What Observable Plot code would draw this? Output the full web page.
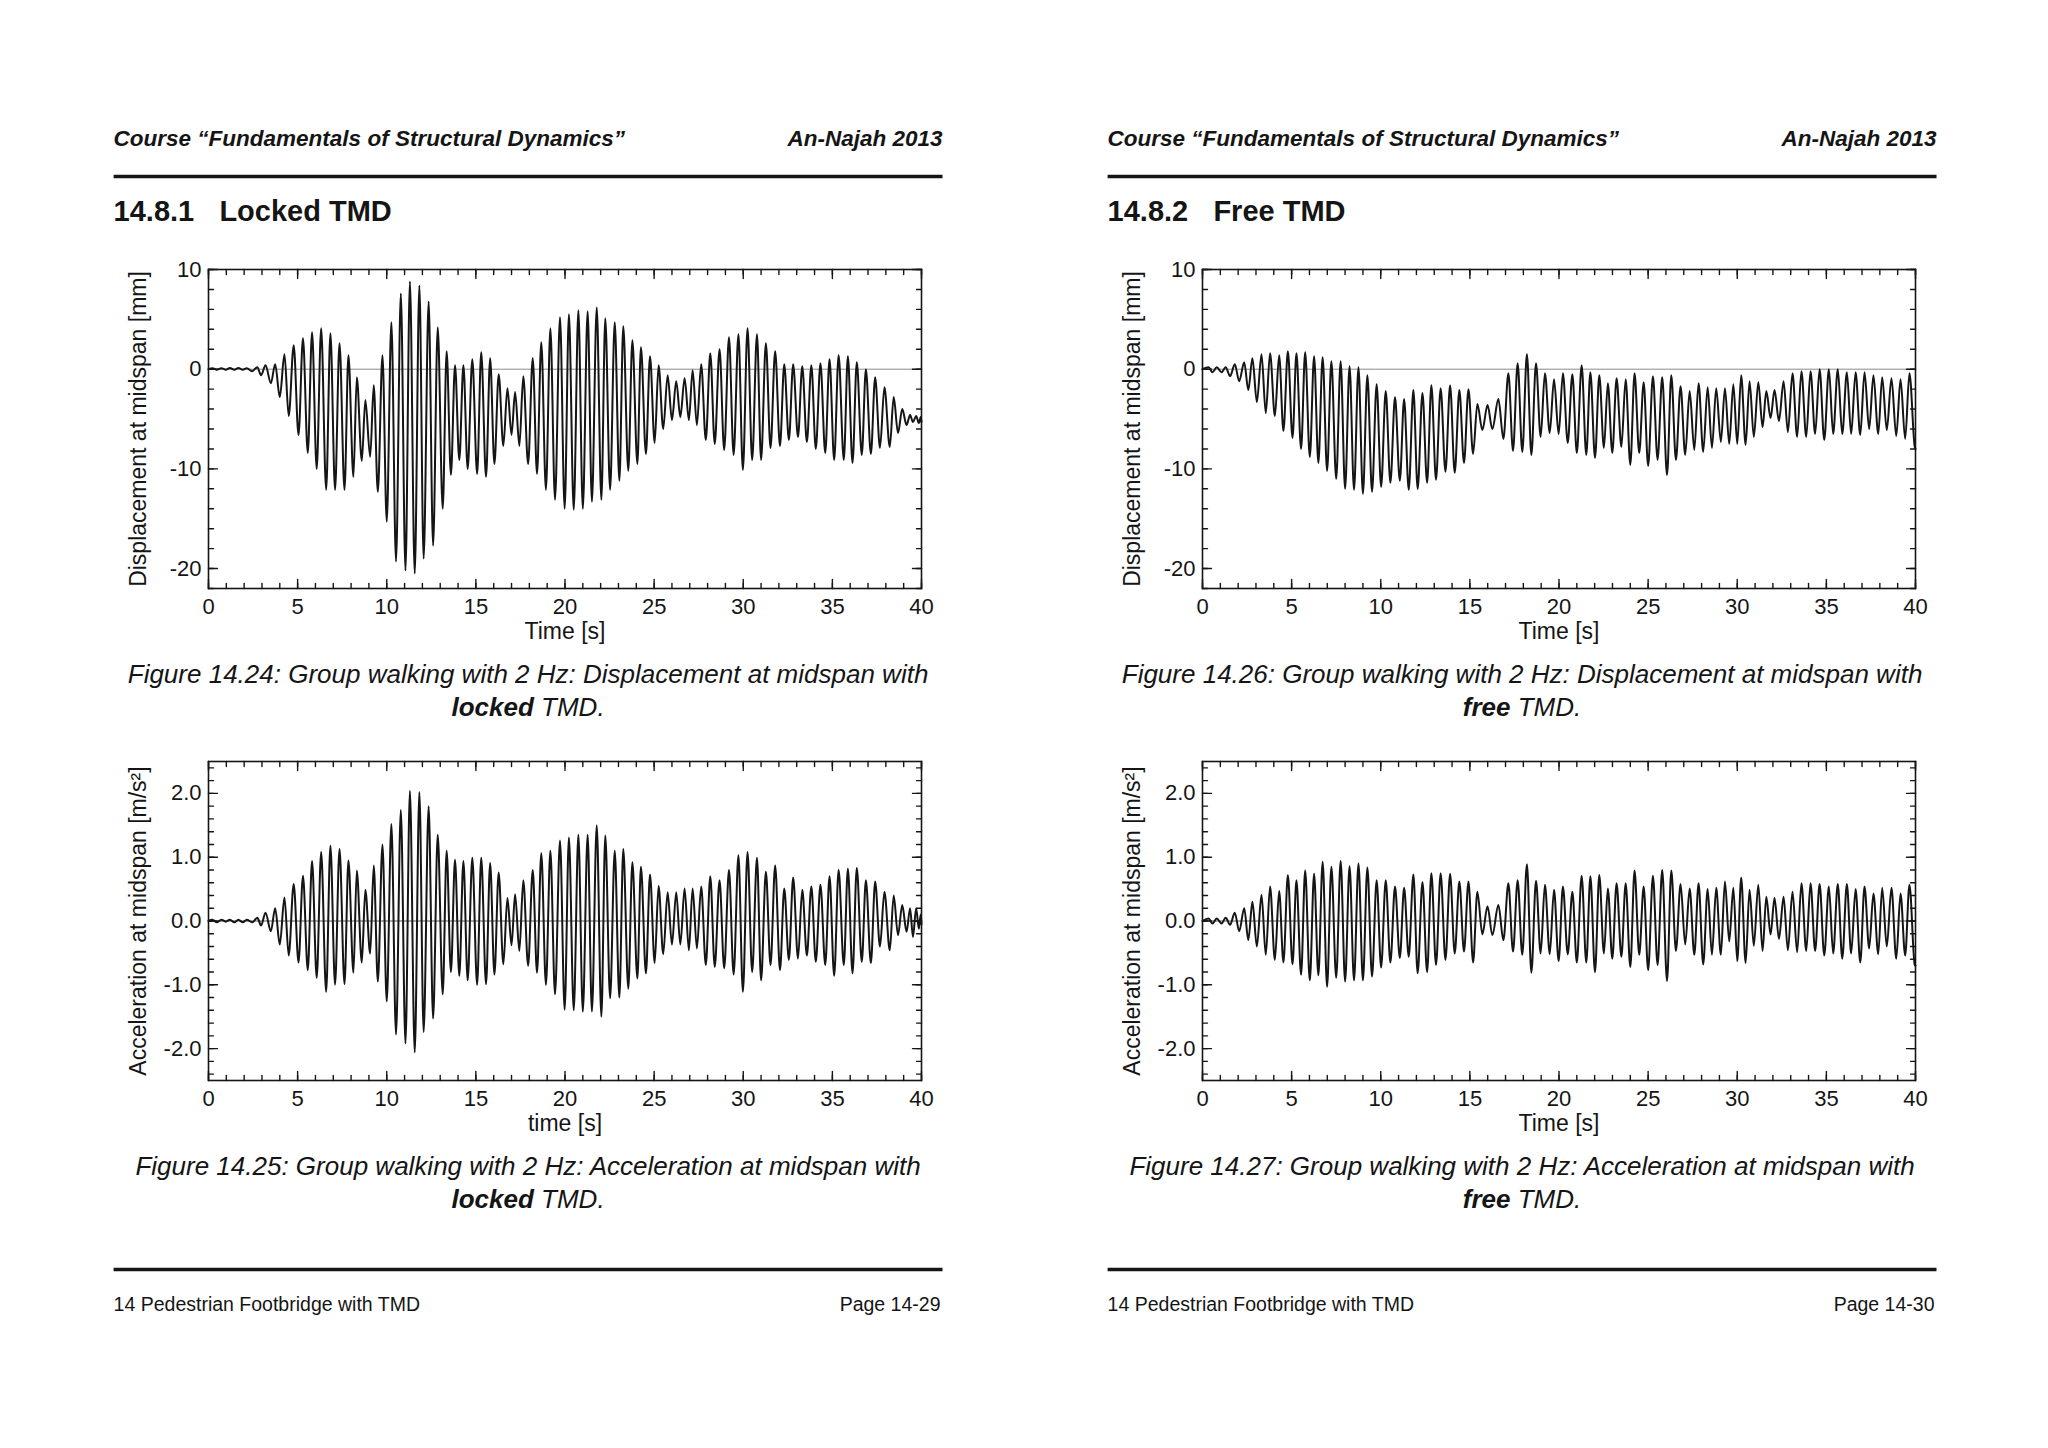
<!DOCTYPE html>
<html><head><meta charset="utf-8">
<script src="https://cdn.jsdelivr.net/npm/d3@7"></script>
<script src="https://cdn.jsdelivr.net/npm/@observablehq/plot@0.6"></script>
<style>
html,body{margin:0;padding:0;background:#fff;}
#page{position:relative;width:2048px;height:1448px;overflow:hidden;background:#fff;font-family:"Liberation Sans",Arial,sans-serif;color:#1a1a1a;}
#page > svg.pagetext{position:absolute;left:0;top:0;}
.chart{position:absolute;width:853px;height:409px;}
.chart svg{max-width:none;}
</style></head><body><div id="page"></div>
<script>
// ---------- tick values ----------
const xTicks = [0, 5, 10, 15, 20, 25, 30, 35, 40];
const dispTicks = [-20, -10, 0, 10];
const accTicks = [-2, -1, 0, 1, 2];
const dispDomain = [-22, 10];
const accDomain = [-2.5, 2.5];

// ---------- locked TMD: times of extrema [s] ----------
const lockedTime = [0,0.22,0.47,0.72,0.97,1.2,1.45,1.68,1.92,2.15,
2.45,2.74,2.95,3.2,3.5,3.74,4.0,4.26,4.5,4.78,
5.05,5.3,5.57,5.81,6.07,6.32,6.6,6.84,7.1,7.35,
7.63,7.85,8.13,8.32,8.6,8.8,9.07,9.27,9.5,9.76,
10.0,10.26,10.52,10.79,11.05,11.3,11.57,11.83,12.07,12.35,
12.6,12.86,13.14,13.36,13.6,13.83,14.07,14.3,14.54,14.8,
15.07,15.3,15.57,15.8,16.04,16.28,16.54,16.77,17.0,17.2,
17.44,17.66,17.93,18.19,18.43,18.67,18.93,19.18,19.44,19.72,
19.98,20.22,20.49,20.75,21.0,21.27,21.51,21.78,22.04,22.26,
22.53,22.79,23.05,23.27,23.55,23.78,24.06,24.26,24.54,24.77,
25.03,25.25,25.51,25.76,26.0,26.24,26.47,26.71,26.95,27.16,
27.4,27.64,27.9,28.15,28.4,28.67,28.93,29.2,29.46,29.73,
29.98,30.24,30.5,30.77,31.0,31.27,31.53,31.79,32.06,32.3,
32.56,32.8,33.07,33.31,33.57,33.82,34.07,34.33,34.6,34.84,
35.1,35.35,35.64,35.87,36.13,36.37,36.65,36.88,37.16,37.4,
37.67,37.92,38.22,38.44,38.68,38.92,39.16,39.36,39.52,39.7,
39.85,39.96,40.0];

// displacement at midspan, locked TMD [mm]
const lockedDisp = [0,0.1,-0.05,0.1,-0.05,0.12,-0.05,0.12,-0.05,0.1,
-0.2,0.2,-0.6,0.4,-1.4,0.5,-2.8,1.5,-4.7,2.4,
-6.6,3.1,-8.4,3.7,-10.0,4.1,-12.1,3.6,-12.1,2.6,
-12.1,1.4,-10.8,-0.8,-9.2,-3.1,-8.8,-1.6,-12.3,1.4,
-15.3,4.7,-19.3,7.6,-20.2,8.8,-20.5,8.4,-19.0,6.8,
-17.7,4.2,-14.0,1.8,-10.6,0.4,-9.1,0.4,-10.0,1.0,
-10.5,1.7,-10.8,1.1,-9.5,-0.5,-7.7,-1.9,-6.6,-2.3,
-7.7,-0.7,-9.5,1.1,-10.5,2.7,-12.1,4.1,-13.1,5.2,
-14.0,5.5,-14.1,5.9,-14.0,5.8,-13.3,6.2,-13.1,5.1,
-12.1,4.7,-11.2,4.3,-10.2,2.9,-9.5,2.2,-8.5,1.3,
-7.4,0.4,-6.0,-0.6,-5.1,-1.2,-4.8,-0.9,-5.1,-0.1,
-5.6,0.5,-7.1,1.6,-7.5,2.0,-8.1,3.2,-8.6,3.5,
-10.1,4.1,-9.1,3.5,-9.1,2.6,-7.9,1.8,-7.7,0.5,
-7.1,0.5,-6.8,0.3,-7.3,0.4,-8.0,0.6,-8.4,1.0,
-9.1,1.4,-9.1,1.3,-9.4,0.7,-8.6,0.0,-8.5,-0.8,
-7.9,-1.8,-7.8,-2.8,-6.4,-4.0,-5.6,-4.6,-5.3,-4.7,
-5.4,-4.8,-5.3];

// acceleration at midspan, locked TMD [m/s2]
const lockedAcc = [0,0.02,-0.02,0.02,-0.01,0.02,-0.02,0.02,-0.02,0.02,
-0.02,0.05,-0.07,0.13,-0.16,0.2,-0.37,0.37,-0.54,0.58,
-0.65,0.71,-0.77,0.94,-0.89,1.08,-1.11,1.18,-1.0,1.13,
-0.99,0.95,-0.81,0.79,-0.65,0.49,-0.51,0.87,-0.95,1.2,
-1.26,1.52,-1.78,1.74,-1.92,2.04,-2.06,2.02,-1.74,1.8,
-1.53,1.35,-1.15,1.1,-0.8,0.96,-0.86,0.94,-0.93,0.99,
-1.0,0.99,-0.99,0.91,-0.84,0.76,-0.68,0.36,-0.38,0.42,
-0.47,0.64,-0.7,0.8,-0.81,1.06,-1.0,1.1,-1.15,1.26,
-1.39,1.31,-1.4,1.35,-1.42,1.35,-1.42,1.5,-1.5,1.34,
-1.21,1.1,-1.2,1.13,-1.06,0.92,-0.9,0.85,-0.82,0.73,
-0.66,0.55,-0.52,0.45,-0.37,0.45,-0.37,0.51,-0.46,0.51,
-0.43,0.54,-0.69,0.7,-0.72,0.64,-0.74,0.8,-0.84,1.03,
-1.11,1.08,-0.8,0.99,-0.93,0.77,-0.69,0.87,-0.77,0.51,
-0.61,0.68,-0.59,0.49,-0.54,0.54,-0.64,0.57,-0.69,0.7,
-0.86,0.8,-0.69,0.82,-0.82,0.83,-0.64,0.64,-0.66,0.62,
-0.4,0.46,-0.46,0.4,-0.22,0.25,-0.17,0.2,-0.25,0.2,
-0.12,0.1,-0.05];

// ---------- free TMD: times of extrema [s] ----------
const freeTime = [0,0.34,0.56,0.8,1.07,1.3,1.55,1.81,2.06,2.34,
2.57,2.8,3.05,3.31,3.55,3.79,4.06,4.3,4.54,4.79,
5.05,5.27,5.53,5.76,6.02,6.26,6.5,6.74,6.99,7.23,
7.5,7.75,8.0,8.25,8.5,8.75,9.0,9.25,9.51,9.77,
10.02,10.28,10.54,10.8,11.07,11.31,11.57,11.83,12.07,12.34,
12.6,12.84,13.1,13.36,13.63,13.89,14.15,14.41,14.67,14.92,
15.18,15.42,15.7,15.99,16.26,16.6,16.88,17.16,17.42,17.68,
17.94,18.2,18.45,18.71,18.97,19.21,19.48,19.72,19.98,20.22,
20.49,20.75,21.0,21.27,21.53,21.76,22.02,22.26,22.52,22.74,
22.99,23.23,23.5,23.74,24.0,24.24,24.5,24.75,25.0,25.27,
25.53,25.79,26.06,26.3,26.56,26.82,27.08,27.33,27.59,27.83,
28.09,28.34,28.58,28.82,29.08,29.31,29.55,29.78,30.0,30.22,
30.47,30.69,30.93,31.18,31.42,31.63,31.87,32.09,32.34,32.6,
32.84,33.1,33.36,33.6,33.87,34.11,34.37,34.62,34.88,35.14,
35.38,35.64,35.89,36.15,36.39,36.64,36.9,37.14,37.4,37.64,
37.91,38.13,38.39,38.65,38.92,39.16,39.42,39.66,39.96,40.0];

// displacement at midspan, free TMD [mm]
const freeDisp = [0,0.2,-0.3,0.2,-0.3,0.2,-0.7,0.5,-1.2,0.7,
-2.1,1.1,-3.3,1.5,-4.4,1.6,-4.7,1.4,-6.2,1.8,
-6.9,1.6,-8.0,1.7,-8.8,1.3,-9.4,1.2,-10.2,0.8,
-11.0,0.8,-12.0,0.3,-12.1,0.2,-12.5,-0.6,-12.3,-1.5,
-11.8,-2.2,-11.4,-2.8,-11.2,-3.0,-12.1,-2.1,-12.0,-2.4,
-11.4,-1.6,-11.1,-1.9,-10.3,-1.6,-10.4,-2.1,-9.4,-2.0,
-8.5,-3.5,-6.1,-3.6,-6.0,-3.0,-7.0,-0.4,-8.2,0.6,
-8.3,1.5,-8.6,0.6,-6.8,-0.4,-6.4,-1.0,-6.5,-0.4,
-7.4,-0.5,-8.4,0.4,-8.6,-0.3,-8.9,-0.6,-7.9,-1.4,
-8.4,-0.9,-7.8,-1.0,-9.6,-0.4,-8.4,-1.3,-9.7,-0.7,
-9.1,-0.8,-10.6,-0.6,-9.1,-1.7,-8.6,-2.2,-8.1,-1.4,
-8.3,-1.8,-7.9,-1.9,-7.3,-1.9,-7.5,-1.5,-7.5,-0.6,
-7.6,-1.2,-6.8,-1.3,-5.8,-2.2,-4.9,-2.1,-5.2,-1.2,
-6.3,-0.4,-6.8,-0.2,-6.8,-0.2,-6.5,0.0,-7.1,0.0,
-6.5,0.0,-6.5,-0.3,-6.5,-0.3,-6.6,-0.3,-6.0,-0.6,
-6.5,-0.8,-6.1,-0.9,-6.7,-1.0,-7.0,-0.4,-7.8,-8.0];

// acceleration at midspan, free TMD [m/s2]
const freeAcc = [0,0.04,-0.04,0.04,-0.04,0.05,-0.06,0.13,-0.16,0.2,
-0.3,0.3,-0.4,0.41,-0.53,0.54,-0.61,0.47,-0.65,0.72,
-0.68,0.64,-0.84,0.79,-0.93,0.74,-0.85,0.93,-1.03,0.85,
-0.89,0.94,-0.95,0.86,-0.93,0.9,-0.93,0.84,-0.87,0.64,
-0.73,0.64,-0.65,0.54,-0.58,0.52,-0.56,0.73,-0.82,0.61,
-0.8,0.75,-0.69,0.75,-0.61,0.74,-0.51,0.62,-0.48,0.62,
-0.65,0.46,-0.21,0.23,-0.22,0.25,-0.3,0.59,-0.48,0.64,
-0.53,0.89,-0.81,0.63,-0.51,0.57,-0.52,0.49,-0.63,0.54,
-0.52,0.46,-0.65,0.71,-0.65,0.7,-0.8,0.72,-0.51,0.51,
-0.59,0.59,-0.56,0.59,-0.72,0.79,-0.53,0.54,-0.77,0.71,
-0.69,0.8,-0.94,0.79,-0.47,0.58,-0.37,0.51,-0.53,0.59,
-0.68,0.5,-0.53,0.52,-0.53,0.62,-0.32,0.52,-0.63,0.68,
-0.66,0.49,-0.39,0.57,-0.47,0.38,-0.21,0.36,-0.28,0.38,
-0.46,0.46,-0.49,0.59,-0.47,0.59,-0.47,0.58,-0.54,0.54,
-0.51,0.58,-0.59,0.58,-0.51,0.5,-0.65,0.54,-0.43,0.43,
-0.52,0.52,-0.4,0.52,-0.59,0.43,-0.54,0.57,-0.69,-0.7];

// ---------- page texts ----------
const headerLeft = "Course \u201CFundamentals of Structural Dynamics\u201D";
const headerRight = "An-Najah 2013";
const footerLeft = "14 Pedestrian Footbridge with TMD";
const sectionNumbers = ["14.8.1", "14.8.2"];
const sectionNames = ["Locked TMD", "Free TMD"];
const captionWords = ["locked", "free"];
const figureNumbers = [["14.24", "14.25"], ["14.26", "14.27"]];
const pageNumbers = ["Page 14-29", "Page 14-30"];

// ---------- chart builder ----------
const FONT = '"Liberation Sans", Arial, Helvetica, sans-serif';
const INK = "#151515";
const tickShape = {draw(context, l) { context.moveTo(0, 0); context.lineTo(0, -l); }};

function edgeTicks(values, channel, frameAnchor, rotate, length) {
  return Plot.vector(values, {
    [channel]: d => d, frameAnchor, rotate, length, anchor: "start",
    shape: tickShape, stroke: INK, strokeWidth: 1.4
  });
}

function chart(o) {
  const data = o.t.map((t, i) => ({t, v: o.v[i]}));
  const xMinor = d3.range(0, 40.001, 1);
  const marks = [
    Plot.ruleY([0], {stroke: o.zeroStroke, strokeWidth: 1}),
    Plot.line(data, {x: "t", y: "v", curve: "monotone-x", stroke: INK, strokeWidth: 2}),
    Plot.frame({stroke: INK, strokeWidth: 1.6}),
    edgeTicks(xMinor, "x", "bottom", 0, 5),
    edgeTicks(xMinor, "x", "top", 180, 5),
    edgeTicks(xTicks, "x", "bottom", 0, 9),
    edgeTicks(xTicks, "x", "top", 180, 9),
    edgeTicks(o.yMinor, "y", "left", 90, 5),
    edgeTicks(o.yMinor, "y", "right", -90, 5),
    edgeTicks(o.yMajor, "y", "left", 90, 9),
    edgeTicks(o.yMajor, "y", "right", -90, 9),
    Plot.axisX({ticks: xTicks, tickSize: 0, tickPadding: 10, tickFormat: d => String(d), fontSize: 22, label: null}),
    Plot.axisY({ticks: o.yMajor, tickSize: 0, tickPadding: 7, tickFormat: o.yFormat, fontSize: 22, label: null}),
    Plot.text([o.yLabel], {text: d => d, frameAnchor: "left", rotate: -90, dx: -70, textAnchor: "middle", lineAnchor: "middle", fontSize: 23, fill: INK}),
    Plot.text([o.xLabel], {text: d => d, frameAnchor: "bottom", dy: 43, textAnchor: "middle", lineAnchor: "middle", fontSize: 23, fill: INK})
  ];
  return Plot.plot({
    width: 853, height: 409,
    marginLeft: 110, marginRight: 30, marginTop: 20, marginBottom: 70,
    x: {domain: [0, 40], label: null},
    y: {domain: o.yDomain, label: null},
    style: {fontFamily: FONT, fontSize: "22px", color: INK, background: "transparent", overflow: "visible"},
    marks
  });
}

const page = document.getElementById("page");

// ---------- page text layer ----------
const svg = d3.select(page).append("svg").attr("class", "pagetext").attr("width", 2048).attr("height", 1448);
const PAGE_L = 113.6, PAGE_R = 942.5;
[0, 1].forEach(p => {
  const ox = p * 994;
  const L = PAGE_L + ox, R = PAGE_R + ox, C = (L + R) / 2;
  const g = svg.append("g").attr("font-family", FONT).attr("fill", INK);
  g.append("text").attr("x", L).attr("y", 146).attr("font-size", 22.5).attr("font-weight", "bold").attr("font-style", "italic").text(headerLeft);
  g.append("text").attr("x", R).attr("y", 146).attr("text-anchor", "end").attr("font-size", 22.5).attr("font-weight", "bold").attr("font-style", "italic").text(headerRight);
  g.append("line").attr("x1", L).attr("x2", R).attr("y1", 176.5).attr("y2", 176.5).attr("stroke", INK).attr("stroke-width", 3.5);
  g.append("text").attr("x", L).attr("y", 221).attr("font-size", 29).attr("font-weight", "bold").text(sectionNumbers[p]);
  g.append("text").attr("x", L + 105.8).attr("y", 221).attr("font-size", 29).attr("font-weight", "bold").text(sectionNames[p]);
  const kinds = ["Displacement", "Acceleration"];
  const base = [683, 1175];
  [0, 1].forEach(j => {
    g.append("text").attr("x", C).attr("y", base[j]).attr("text-anchor", "middle").attr("font-size", 26).attr("font-style", "italic")
      .text(`Figure ${figureNumbers[p][j]}: Group walking with 2 Hz: ${kinds[j]} at midspan with`);
    const t2 = g.append("text").attr("x", C).attr("y", base[j] + 33).attr("text-anchor", "middle").attr("font-size", 26).attr("font-style", "italic");
    t2.append("tspan").attr("font-weight", "bold").text(captionWords[p]);
    t2.append("tspan").text(" TMD.");
  });
  g.append("line").attr("x1", L).attr("x2", R).attr("y1", 1269.5).attr("y2", 1269.5).attr("stroke", INK).attr("stroke-width", 3.5);
  g.append("text").attr("x", L).attr("y", 1311).attr("font-size", 19.5).text(footerLeft);
  g.append("text").attr("x", R - 2).attr("y", 1311).attr("text-anchor", "end").attr("font-size", 19.5).text(pageNumbers[p]);
});

// ---------- charts ----------
const dispMinor = d3.range(-22, 10.001, 2);
const accMinor = d3.range(-24, 25, 2).map(d => d / 10);
const dispFmt = d => String(d);
const accFmt = d => d.toFixed(1);
const charts = [
  {left: 98, top: 249, t: lockedTime, v: lockedDisp, yDomain: dispDomain, yMajor: dispTicks, yMinor: dispMinor, yFormat: dispFmt,
   yLabel: "Displacement at midspan [mm]", xLabel: "Time [s]", zeroStroke: "#8a8a8a"},
  {left: 98, top: 741, t: lockedTime, v: lockedAcc, yDomain: accDomain, yMajor: accTicks, yMinor: accMinor, yFormat: accFmt,
   yLabel: "Acceleration at midspan [m/s\u00B2]", xLabel: "time [s]", zeroStroke: "#555"},
  {left: 1092, top: 249, t: freeTime, v: freeDisp, yDomain: dispDomain, yMajor: dispTicks, yMinor: dispMinor, yFormat: dispFmt,
   yLabel: "Displacement at midspan [mm]", xLabel: "Time [s]", zeroStroke: "#8a8a8a"},
  {left: 1092, top: 741, t: freeTime, v: freeAcc, yDomain: accDomain, yMajor: accTicks, yMinor: accMinor, yFormat: accFmt,
   yLabel: "Acceleration at midspan [m/s\u00B2]", xLabel: "Time [s]", zeroStroke: "#555"}
];
charts.forEach(c => {
  const div = document.createElement("div");
  div.className = "chart";
  div.style.left = c.left + "px";
  div.style.top = c.top + "px";
  div.appendChild(chart(c));
  page.appendChild(div);
});
</script></body></html>
